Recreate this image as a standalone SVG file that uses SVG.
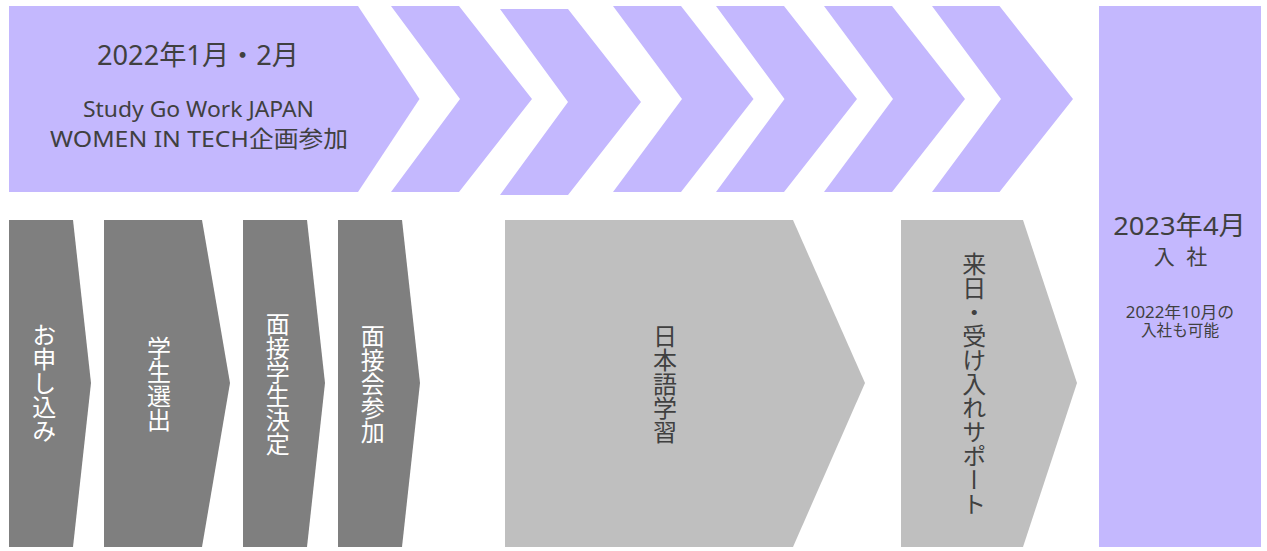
<svg xmlns="http://www.w3.org/2000/svg" width="1267" height="551" viewBox="0 0 1267 551">
<style>
.pur{fill:#c4b8fe}
.dk{fill:#7f7f7f}
.lt{fill:#bfbfbf}
text{font-family:"Noto Sans","Noto Sans CJK JP",sans-serif}
.hd{fill:#404040;text-anchor:middle}
.v{font-family:"Noto Sans CJK JP",sans-serif;writing-mode:vertical-rl;text-anchor:middle;font-size:24px}
.vw{fill:#ffffff}
.vd{fill:#404040}
</style>
<rect width="1267" height="551" fill="#ffffff"/>
<g id="connectors"/>
<g id="node-wit">
<polygon class="pur" points="9,6 358,6 419.5,99 358,192 9,192"/>
<text class="hd" x="198" y="65" font-size="27" textLength="202" lengthAdjust="spacingAndGlyphs">2022年1月・2月</text>
<text class="hd" x="198.5" y="117.3" font-size="21" textLength="231" lengthAdjust="spacingAndGlyphs">Study Go Work JAPAN</text>
<text class="hd" x="199" y="146.7" font-size="22.5" textLength="298" lengthAdjust="spacingAndGlyphs">WOMEN IN TECH企画参加</text>
</g>
<g id="chev-1"><polygon class="pur" points="391,6 459,6 532,99 459,192 391,192 460,99"/></g>
<g id="chev-2"><polygon class="pur" points="500,9 568,9 641,102 568,195 500,195 568,102"/></g>
<g id="chev-3"><polygon class="pur" points="613,6 681,6 753.5,99 681,192 613,192 682,99"/></g>
<g id="chev-4"><polygon class="pur" points="716,6 784,6 857,99 784,192 716,192 784.5,99"/></g>
<g id="chev-5"><polygon class="pur" points="824,6 892,6 965,99 892,192 824,192 893,99"/></g>
<g id="chev-6"><polygon class="pur" points="932,6 999.5,6 1073,99 999.5,192 932,192 1001,99"/></g>
<g id="node-apply">
<polygon class="dk" points="9,220 73,220 91,383 73,547 9,547"/>
<text class="v vw" x="44.3" y="383">お申し込み</text>
</g>
<g id="node-select">
<polygon class="dk" points="104,220 202,220 230,383 202,547 104,547"/>
<text class="v vw" x="159" y="384">学生選出</text>
</g>
<g id="node-interviewee">
<polygon class="dk" points="243,220 307,220 325,383 307,547 243,547"/>
<text class="v vw" x="277.7" y="383.6">面接学生決定</text>
</g>
<g id="node-interview">
<polygon class="dk" points="338,220 402,220 420,383 402,547 338,547"/>
<text class="v vw" x="372.7" y="383.5">面接会参加</text>
</g>
<g id="node-japanese">
<polygon class="lt" points="505,220 793,220 865,383 793,547 505,547"/>
<text class="v vd" x="665" y="384">日本語学習</text>
</g>
<g id="node-arrival">
<polygon class="lt" points="901,220 1023,220 1077,383 1023,547 901,547"/>
<text class="v vd" x="974.3" y="383.5">来日・受け入れサポート</text>
</g>
<g id="node-join">
<rect class="pur" x="1099" y="6" width="162" height="541"/>
<text class="hd" x="1179.5" y="235" font-size="26" textLength="132.7" lengthAdjust="spacingAndGlyphs">2023年4月</text>
<text class="hd" x="1180.5" y="263.5" font-size="21" word-spacing="6">入 社</text>
<text class="hd" x="1180" y="317.5" font-size="15.5" textLength="108.3" lengthAdjust="spacingAndGlyphs">2022年10月の</text>
<text class="hd" x="1180" y="335.5" font-size="15.5" textLength="78" lengthAdjust="spacingAndGlyphs">入社も可能</text>
</g>
</svg>
